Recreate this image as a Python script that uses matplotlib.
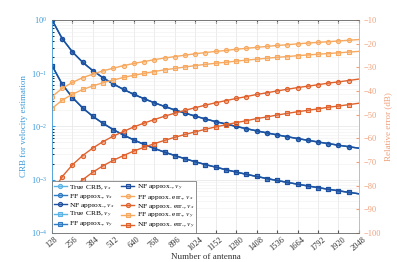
import numpy as np
import matplotlib
matplotlib.use('Agg')
import matplotlib.pyplot as plt
from matplotlib.ticker import NullFormatter, LogLocator

plt.rcParams['font.family'] = ['Liberation Serif', 'DejaVu Serif']
plt.rcParams['mathtext.fontset'] = 'stix'

# number of antennas (sample points every 64)
n_ant = list(range(128, 2049, 64))
xticks = list(range(128, 2049, 128))

# CRB for velocity estimation (left axis, log)
crb_vx = [1.0, 0.444, 0.25, 0.16, 0.111, 0.0816, 0.0625, 0.0494, 0.04, 0.0331,
          0.0278, 0.0237, 0.0204, 0.0178, 0.0156, 0.0138, 0.0123, 0.0111, 0.01,
          0.00907, 0.00826, 0.00756, 0.00694, 0.0064, 0.00592, 0.00549, 0.0051,
          0.00476, 0.00444, 0.00416, 0.0039]
crb_vy = [0.139, 0.0618, 0.0348, 0.0222, 0.0154, 0.01135, 0.00869, 0.00686,
          0.00556, 0.0046, 0.00386, 0.00329, 0.00284, 0.00247, 0.00217, 0.00192,
          0.00172, 0.00154, 0.00139, 0.00126, 0.00115, 0.00105, 0.000965,
          0.00089, 0.000822, 0.000763, 0.000709, 0.000661, 0.000618, 0.000579,
          0.000543]

# relative errors in dB (right axis)
ff_err_vx = [-42.4, -38.9, -36.4, -34.4, -32.9, -31.5, -30.4, -29.3, -28.4, -27.6,
             -26.8, -26.1, -25.5, -24.9, -24.3, -23.8, -23.3, -22.9, -22.4, -22.0,
             -21.6, -21.2, -20.8, -20.5, -20.1, -19.8, -19.5, -19.2, -18.9, -18.6,
             -18.3]
ff_err_vy = [-47.4, -43.9, -41.4, -39.4, -37.9, -36.5, -35.4, -34.3, -33.4, -32.6,
             -31.8, -31.1, -30.5, -29.9, -29.3, -28.8, -28.3, -27.9, -27.4, -27.0,
             -26.6, -26.2, -25.8, -25.5, -25.1, -24.8, -24.5, -24.2, -23.9, -23.6,
             -23.3]
nf_err_vx = [-83.2, -76.2, -71.2, -67.3, -64.1, -61.4, -59.1, -57.1, -55.2, -53.6,
             -52.1, -50.7, -49.4, -48.2, -47.1, -46.0, -45.0, -44.1, -43.2, -42.4,
             -41.5, -40.8, -40.0, -39.3, -38.6, -38.0, -37.4, -36.7, -36.2, -35.6,
             -35.0]
nf_err_vy = [-93.4, -86.4, -81.4, -77.5, -74.3, -71.6, -69.3, -67.3, -65.4, -63.8,
             -62.3, -60.9, -59.6, -58.4, -57.3, -56.2, -55.2, -54.3, -53.4, -52.6,
             -51.7, -51.0, -50.2, -49.5, -48.8, -48.2, -47.6, -46.9, -46.4, -45.8,
             -45.2]

c_true = '#5cb3e8'
c_ff = '#2f7bc4'
c_nf = '#1f4f9e'
c_fferr = '#f7a95f'
c_nferr = '#e0622d'
c_left = '#3d9ad8'
c_right = '#f0a07a'

fig = plt.figure(figsize=(3.97, 2.62), dpi=100)
ax = fig.add_axes([0.131, 0.111, 0.773, 0.813])
ax2 = ax.twinx()

mk = slice(0, -1)
lw = 1.0
ms = 3.0

def line(a, y, c, m, lab):
    face = matplotlib.colors.to_rgba(c, 0.45)
    h, = a.plot(n_ant, y, color=c, lw=lw, marker=m, ms=ms, mfc=face, mec=c,
                mew=0.8, markevery=mk, label=lab)
    return h

handles = []
handles.append(line(ax, crb_vx, c_true, 'o', r'True CRB, $v_x$'))
handles.append(line(ax, crb_vx, c_ff, 'o', r'FF approx., $v_x$'))
handles.append(line(ax, crb_vx, c_nf, 'o', r'NF approx., $v_x$'))
handles.append(line(ax, crb_vy, c_true, 's', r'True CRB, $v_y$'))
handles.append(line(ax, crb_vy, c_ff, 's', r'FF approx., $v_y$'))
handles.append(line(ax, crb_vy, c_nf, 's', r'NF approx., $v_y$'))
handles.append(line(ax2, ff_err_vx, c_fferr, 'o', r'FF approx. err., $v_x$'))
handles.append(line(ax2, nf_err_vx, c_nferr, 'o', r'NF approx. err., $v_x$'))
handles.append(line(ax2, ff_err_vy, c_fferr, 's', r'FF approx. err., $v_y$'))
handles.append(line(ax2, nf_err_vy, c_nferr, 's', r'NF approx. err., $v_y$'))

ax.set_yscale('log')
ax.set_ylim(1e-4, 1e0)
ax.set_xlim(128, 2048)
ax.set_xticks(xticks)
ax.set_xticklabels([str(t) for t in xticks], rotation=40, fontsize=6,
                   color='#333333')
ax.yaxis.set_minor_locator(LogLocator(base=10, subs=np.arange(2, 10)))
ax.yaxis.set_minor_formatter(NullFormatter())
ax.tick_params(axis='y', colors=c_left, labelsize=6, direction='in', length=2.5)
ax.tick_params(axis='y', which='minor', direction='in', length=1.5)
ax.tick_params(axis='x', direction='in', length=2.5, top=True, pad=2,
               colors='#555555', labelcolor='#333333')
ax.grid(True, which='major', color='#e4e4e4', lw=0.5)
ax.grid(True, which='minor', axis='y', color='#efefef', lw=0.4)
ax.set_axisbelow(True)
ax.set_ylabel('CRB for velocity estimation', color=c_left, fontsize=6.5, labelpad=2)
ax.set_xlabel('Number of antenna', color='#333333', fontsize=6.5, labelpad=0)

ax2.set_ylim(-100, -10)
ax2.set_yticks(range(-100, -9, 10))
ax2.tick_params(axis='y', colors=c_right, labelsize=6, direction='in', length=2.5)
ax2.set_ylabel('Relative error (dB)', color=c_right, fontsize=6.5, labelpad=2)

for s in ['top', 'bottom']:
    ax2.spines[s].set_color('#666666')
    ax2.spines[s].set_linewidth(0.6)
ax2.spines['left'].set_color(c_left)
ax2.spines['right'].set_color(c_right)
ax2.spines['left'].set_linewidth(0.6)
ax2.spines['right'].set_linewidth(0.6)
for s in ax.spines.values():
    s.set_visible(False)

leg = ax2.legend(handles, [h.get_label() for h in handles],
                 loc='lower left', ncol=2, fontsize=5.4, frameon=True, fancybox=False,
                 edgecolor='#666666', framealpha=1.0, borderaxespad=0.0,
                 handlelength=1.8, handletextpad=0.3, columnspacing=0.8,
                 labelspacing=0.0, borderpad=0.2)
leg.get_frame().set_linewidth(0.5)

fig.savefig('out.png', dpi=100)
